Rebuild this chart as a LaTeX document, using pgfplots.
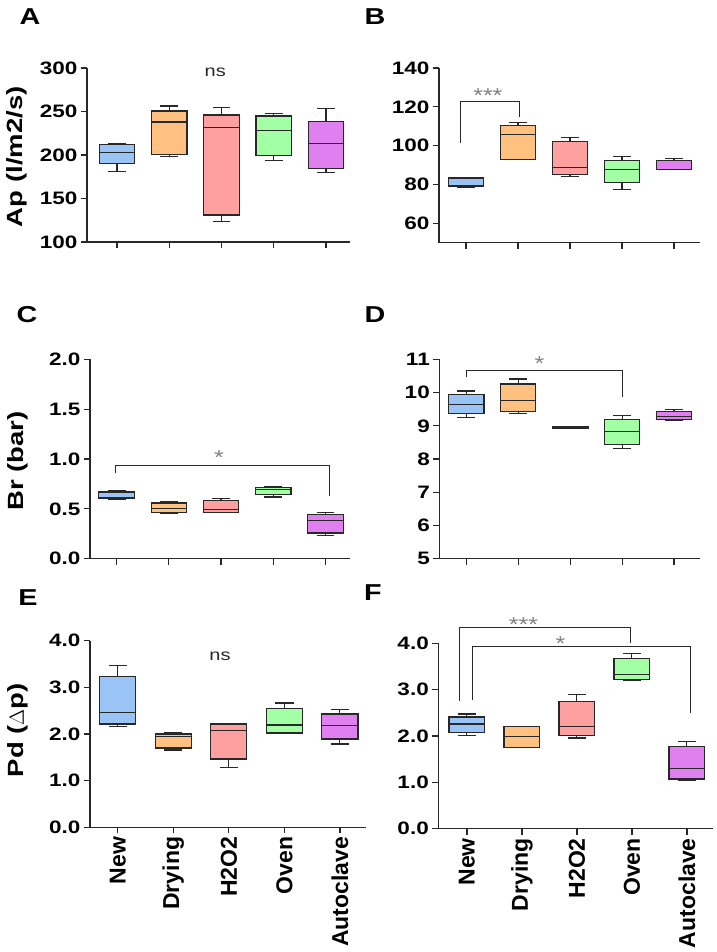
\documentclass[border=0pt]{standalone}
\usepackage{fontspec}
\setmainfont{Liberation Sans}
\newfontfamily\stf[FakeStretch=1.25]{Liberation Sans}
\usepackage{pgfplots}
\pgfplotsset{compat=1.18}
\usepgfplotslibrary{statistics}
\definecolor{cB}{RGB}{153,196,245}
\definecolor{cO}{RGB}{255,192,128}
\definecolor{cR}{RGB}{255,160,160}
\definecolor{cG}{RGB}{163,255,163}
\definecolor{cP}{RGB}{224,128,240}
\definecolor{ax}{RGB}{40,40,40}
\definecolor{star}{RGB}{128,128,128}
\tikzset{
  sig/.style={draw=ax, line width=0.9pt},
  signode/.style={text=star, font=\stf\fontsize{20}{22}\selectfont, yshift=-4pt},
  nsnode/.style={text=ax, font=\stf\fontsize{16}{18}\selectfont},
  plet/.style={font=\stf\bfseries\fontsize{23}{24}\selectfont},
}
\pgfplotsset{
  panel/.style={
    scale only axis, axis lines=left,
    axis line style={-, line width=1.3pt, draw=ax},
    tick style={line width=1.2pt, color=ax},
    tick align=outside, major tick length=6pt,
    xtick={0,1,2,3,4}, xticklabels={}, clip=false,
    yticklabel style={font=\stf\bfseries\fontsize{18}{20}\selectfont},
    ylabel style={font=\stf\bfseries\fontsize{22}{24}\selectfont, anchor=center},
  },
  bpa/.style={draw=ax, line width=1.1pt, /pgfplots/boxplot/draw direction=y, /pgfplots/boxplot/box extend=0.68, /pgfplots/boxplot/whisker extend=0.34},
  bpe/.style={draw=ax, line width=1.1pt, /pgfplots/boxplot/draw direction=y, /pgfplots/boxplot/box extend=0.65, /pgfplots/boxplot/whisker extend=0.33},
  onedec/.style={yticklabel={\pgfmathprintnumber[fixed, fixed zerofill, precision=1, assume math mode=true]{\tick}}},
  intlab/.style={yticklabel={\pgfmathprintnumber[assume math mode=true]{\tick}}},
  xlab/.style={xticklabels={New,Drying,H2O2,Oven,Autoclave},
    xticklabel style={rotate=90, anchor=east, font=\bfseries\fontsize{23}{24}\selectfont}},
}
\begin{document}
\begin{tikzpicture}
\path[use as bounding box] (0pt,0pt) rectangle (716pt,952pt);
\node[plet] at (30pt,935pt) {A};
\node[plet] at (375pt,935pt) {B};
\node[plet] at (27pt,637pt) {C};
\node[plet] at (375pt,637pt) {D};
\node[plet] at (28pt,354pt) {E};
\node[plet] at (373pt,359pt) {F};

% ---------- A ----------
\begin{axis}[panel, intlab, at={(87pt,710pt)}, anchor=south west, width=263pt, height=174pt,
  xmin=-0.574, xmax=4.46, ymin=100, ymax=300, ytick={100,150,200,250,300},
  ylabel={Ap (l/m2/s)}, ylabel style={at={(axis description cs:-0.266,0.49)}}]
\addplot[bpa, fill=cB, boxplot prepared={draw position=0, lower whisker=180.8, lower quartile=189.7, median=202.7, upper quartile=212.3, upper whisker=213.5}] coordinates {};
\addplot[bpa, fill=cO, boxplot prepared={draw position=1, lower whisker=198, lower quartile=200.8, median=237.9, upper quartile=250.6, upper whisker=256.3}] coordinates {};
\addplot[bpa, fill=cR, boxplot prepared={draw position=2, lower whisker=123.8, lower quartile=131, median=231.4, upper quartile=246, upper whisker=254.8}] coordinates {};
\addplot[bpa, fill=cG, boxplot prepared={draw position=3, lower whisker=193.5, lower quartile=199.7, median=228, upper quartile=244.8, upper whisker=248}] coordinates {};
\addplot[bpa, fill=cP, boxplot prepared={draw position=4, lower whisker=179.4, lower quartile=184, median=213.5, upper quartile=239, upper whisker=253.7}] coordinates {};
\node[nsnode] at (axis cs:1.88,295) {ns};
\end{axis}

% ---------- B ----------
\begin{axis}[panel, intlab, at={(439pt,709.3pt)}, anchor=south west, width=261pt, height=174.7pt,
  xmin=-0.52, xmax=4.5, ymin=50, ymax=140, ytick={60,80,100,120,140}]
\addplot[bpa, fill=cB, boxplot prepared={draw position=0, lower whisker=78.4, lower quartile=79.1, median=79.3, upper quartile=83.3, upper whisker=83.8}] coordinates {};
\addplot[bpa, fill=cO, boxplot prepared={draw position=1, lower whisker=93, lower quartile=93, median=105.7, upper quartile=110.2, upper whisker=111.8}] coordinates {};
\addplot[bpa, fill=cR, boxplot prepared={draw position=2, lower whisker=84, lower quartile=85.3, median=88.7, upper quartile=102, upper whisker=104.2}] coordinates {};
\addplot[bpa, fill=cG, boxplot prepared={draw position=3, lower whisker=77.5, lower quartile=81, median=87.9, upper quartile=92.3, upper whisker=94.4}] coordinates {};
\addplot[bpa, fill=cP, boxplot prepared={draw position=4, lower whisker=87.9, lower quartile=87.9, median=87.9, upper quartile=92.3, upper whisker=93.2}] coordinates {};
\draw[sig] (axis cs:-0.1,101.6) |- (axis cs:1.02,122.8) -- (axis cs:1.02,115);
\node[signode] at (axis cs:0.42,128) {***};
\end{axis}

% ---------- C ----------
\begin{axis}[panel, onedec, at={(90pt,393.3pt)}, anchor=south west, width=260pt, height=199.3pt,
  xmin=-0.51, xmax=4.47, ymin=0, ymax=2, ytick={0,0.5,1,1.5,2},
  ylabel={Br (bar)}, ylabel style={at={(axis description cs:-0.277,0.49)}}]
\addplot[bpa, fill=cB, boxplot prepared={draw position=0, lower whisker=0.595, lower quartile=0.6, median=0.61, upper quartile=0.669, upper whisker=0.682}] coordinates {};
\addplot[bpa, fill=cO, boxplot prepared={draw position=1, lower whisker=0.455, lower quartile=0.468, median=0.502, upper quartile=0.559, upper whisker=0.572}] coordinates {};
\addplot[bpa, fill=cR, boxplot prepared={draw position=2, lower whisker=0.468, lower quartile=0.468, median=0.495, upper quartile=0.582, upper whisker=0.605}] coordinates {};
\addplot[bpa, fill=cG, boxplot prepared={draw position=3, lower whisker=0.619, lower quartile=0.642, median=0.696, upper quartile=0.716, upper whisker=0.722}] coordinates {};
\addplot[bpa, fill=cP, boxplot prepared={draw position=4, lower whisker=0.231, lower quartile=0.258, median=0.385, upper quartile=0.445, upper whisker=0.462}] coordinates {};
\draw[sig] (axis cs:-0.02,0.856) |- (axis cs:4.08,0.936) -- (axis cs:4.08,0.629);
\node[signode] at (axis cs:1.96,1.05) {*};
\end{axis}

% ---------- D ----------
\begin{axis}[panel, intlab, at={(439.3pt,393.3pt)}, anchor=south west, width=260.7pt, height=199.3pt,
  xmin=-0.52, xmax=4.5, ymin=5, ymax=11, ytick={5,6,7,8,9,10,11}]
\addplot[bpa, fill=cB, boxplot prepared={draw position=0, lower whisker=9.25, lower quartile=9.36, median=9.64, upper quartile=9.93, upper whisker=10.05}] coordinates {};
\addplot[bpa, fill=cO, boxplot prepared={draw position=1, lower whisker=9.36, lower quartile=9.43, median=9.75, upper quartile=10.26, upper whisker=10.41}] coordinates {};
\addplot[bpa, fill=cR, line width=2pt, boxplot prepared={draw position=2, lower whisker=8.94, lower quartile=8.94, median=8.95, upper quartile=8.96, upper whisker=8.96}] coordinates {};
\addplot[bpa, fill=cG, boxplot prepared={draw position=3, lower whisker=8.31, lower quartile=8.43, median=8.84, upper quartile=9.18, upper whisker=9.32}] coordinates {};
\addplot[bpa, fill=cP, boxplot prepared={draw position=4, lower whisker=9.17, lower quartile=9.2, median=9.28, upper quartile=9.44, upper whisker=9.49}] coordinates {};
\draw[sig] (axis cs:0,10.46) |- (axis cs:3.0,10.68) -- (axis cs:3.0,9.86);
\node[signode] at (axis cs:1.41,10.98) {*};
\end{axis}

% ---------- E ----------
\begin{axis}[panel, onedec, xlab, at={(90pt,124.7pt)}, anchor=south west, width=276pt, height=186.6pt,
  xmin=-0.5, xmax=4.47, ymin=0, ymax=4, ytick={0,1,2,3,4},
  ylabel={Pd ($\Delta$p)}, ylabel style={at={(axis description cs:-0.26,0.52)}}]
\addplot[bpe, fill=cB, boxplot prepared={draw position=0, lower whisker=2.157, lower quartile=2.214, median=2.457, upper quartile=3.229, upper whisker=3.464}] coordinates {};
\addplot[bpe, fill=cO, boxplot prepared={draw position=1, lower whisker=1.657, lower quartile=1.7, median=1.943, upper quartile=2.0, upper whisker=2.028}] coordinates {};
\addplot[bpe, fill=cR, boxplot prepared={draw position=2, lower whisker=1.278, lower quartile=1.464, median=2.079, upper quartile=2.214, upper whisker=2.214}] coordinates {};
\addplot[bpe, fill=cG, boxplot prepared={draw position=3, lower whisker=2.021, lower quartile=2.021, median=2.193, upper quartile=2.55, upper whisker=2.664}] coordinates {};
\addplot[bpe, fill=cP, boxplot prepared={draw position=4, lower whisker=1.786, lower quartile=1.893, median=2.186, upper quartile=2.429, upper whisker=2.529}] coordinates {};
\node[nsnode] at (axis cs:1.84,3.66) {ns};
\end{axis}

% ---------- F ----------
\begin{axis}[panel, onedec, xlab, at={(438.3pt,123.3pt)}, anchor=south west, width=275pt, height=185.4pt,
  xmin=-0.52, xmax=4.48, ymin=0, ymax=4, ytick={0,1,2,3,4}]
\addplot[bpe, fill=cB, boxplot prepared={draw position=0, lower whisker=2.007, lower quartile=2.072, median=2.259, upper quartile=2.41, upper whisker=2.475}] coordinates {};
\addplot[bpe, fill=cO, boxplot prepared={draw position=1, lower whisker=1.748, lower quartile=1.748, median=1.986, upper quartile=2.2, upper whisker=2.2}] coordinates {};
\addplot[bpe, fill=cR, boxplot prepared={draw position=2, lower whisker=1.957, lower quartile=2.014, median=2.2, upper quartile=2.741, upper whisker=2.9}] coordinates {};
\addplot[bpe, fill=cG, boxplot prepared={draw position=3, lower whisker=3.194, lower quartile=3.216, median=3.331, upper quartile=3.669, upper whisker=3.784}] coordinates {};
\addplot[bpe, fill=cP, boxplot prepared={draw position=4, lower whisker=1.05, lower quartile=1.072, median=1.295, upper quartile=1.777, upper whisker=1.885}] coordinates {};
\draw[sig] (axis cs:-0.14,2.76) |- (axis cs:2.97,4.337) -- (axis cs:2.97,4.0);
\node[signode] at (axis cs:1.03,4.5) {***};
\draw[sig] (axis cs:0.10,2.777) |- (axis cs:4.06,3.927) -- (axis cs:4.06,2.49);
\node[signode] at (axis cs:1.70,4.07) {*};
\end{axis}
\end{tikzpicture}
\end{document}
